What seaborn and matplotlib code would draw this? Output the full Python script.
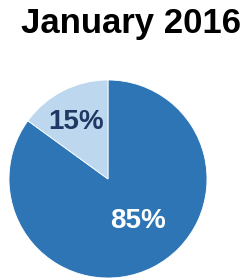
import matplotlib
matplotlib.use("Agg")
import matplotlib.pyplot as plt
import seaborn as sns
import numpy as np

title = "January 2016"
categories = ["Yes", "No"]
values = [85, 15]
colors = ["#2E75B6", "#BDD7EE"]
label_colors = ["white", "#1F3864"]

sns.set_theme(style="white")
plt.rcParams['font.family'] = ['Liberation Sans', 'DejaVu Sans']

fig = plt.figure(figsize=(2.52, 2.80), dpi=100)
ax = fig.add_axes([0, 0, 1, 1])

wedges, texts, autotexts = ax.pie(
    values, colors=colors, startangle=90, counterclock=False,
    center=(108, 101), radius=99, autopct=lambda p: f"{p:.0f}%",
    pctdistance=0.6, wedgeprops=dict(linewidth=0.6, edgecolor="white"),
    textprops=dict(fontsize=20, fontweight="bold"), frame=True)
ax.set_xlim(0, 252)
ax.set_ylim(0, 280)
ax.set_aspect('equal')
ax.axis('off')

# label placement tuned per wedge (radial fraction, angle offset)
adj = [(0.52, 9), (0.66, 2)]
for w, t, c, (r, da) in zip(wedges, autotexts, label_colors, adj):
    mid = np.deg2rad((w.theta1 + w.theta2) / 2 + da)
    t.set_position((108 + r * 99 * np.cos(mid), 101 + r * 99 * np.sin(mid)))
    t.set_color(c)

fig.text(131 / 252, 1 - 33 / 280, title, ha="center", va="baseline",
         fontsize=25, fontweight="bold", color="black")

fig.savefig("out.png", dpi=100)
